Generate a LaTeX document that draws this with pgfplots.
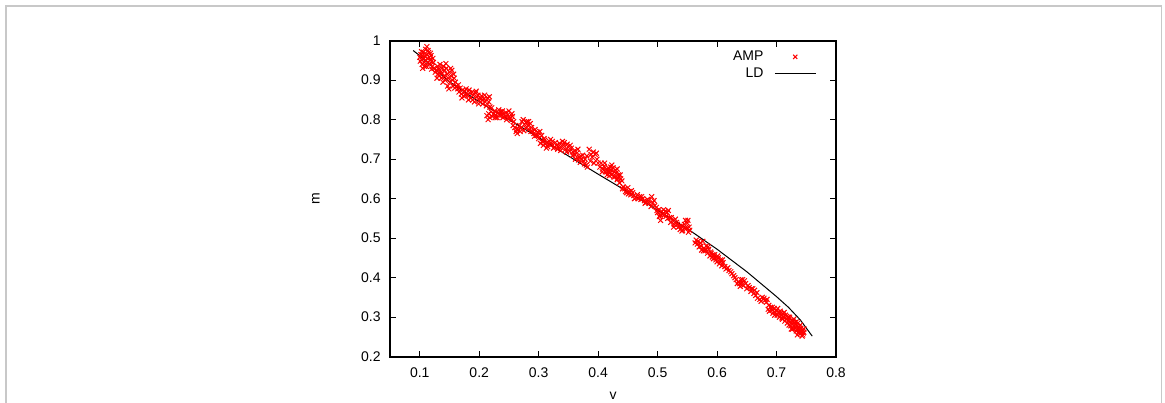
\documentclass[border=0pt]{standalone}
\usepackage{fontspec}
\setmainfont{Liberation Sans}
\usepackage{pgfplots}
\pgfplotsset{compat=1.18}
\definecolor{ampred}{HTML}{FF0000}
\definecolor{framegray}{HTML}{C8C8C8}

\begin{document}
\begin{tikzpicture}[font=\fontsize{10.5}{12.6}\selectfont]
% page = 1165 x 403 px at 0.75pt per px
\useasboundingbox (0,0) rectangle (873.75pt,302.25pt);
\draw[framegray, line width=1.1pt] (4.5pt,0) -- (4.5pt,297.75pt) -- (871.3pt,297.75pt) -- (871.3pt,0);
\begin{axis}[
  at={(292.5pt,34.75pt)}, anchor=south west,
  scale only axis, width=334.5pt, height=237pt,
  xmin=0.05, xmax=0.8, ymin=0.2, ymax=1,
  xtick={0.1,0.2,0.3,0.4,0.5,0.6,0.7,0.8},
  ytick={0.2,0.3,0.4,0.5,0.6,0.7,0.8,0.9,1},
  xticklabels={0.1,0.2,0.3,0.4,0.5,0.6,0.7,0.8},
  yticklabels={0.2,0.3,0.4,0.5,0.6,0.7,0.8,0.9,1},
  xtick pos=both, ytick pos=both,
  xticklabel pos=left, yticklabel pos=left,
  tick align=inside, major tick length=4.5pt,
  axis line style={line width=1.5pt},
  every tick/.style={black, line width=0.75pt},
  xticklabel style={yshift=-4.5pt},
  yticklabel style={xshift=-3.5pt},
  xlabel={v}, ylabel={m},
  xlabel style={at={(axis description cs:0.5,-0.1224)}, anchor=center},
  ylabel style={at={(axis description cs:-0.166,0.5)}, anchor=center},
  legend plot pos=right, legend cell align=right,
  legend style={at={(axis description cs:0.9574,0.968)}, anchor=north east,
    draw=none, fill=none, inner sep=0pt, row sep=3.75pt, column sep=0pt,
    nodes={inner sep=0pt}},
  clip=false,
]
% AMP estimates
\addplot[only marks, mark=x, mark size=2.6pt, ampred, line width=0.75pt,
  legend image code/.code={\path (0pt,0pt) (39.25pt,0pt); \draw[ampred, line width=0.75pt] plot[mark=x, mark size=2.2pt] coordinates {(23.5pt,0pt)};}]
coordinates {
(0.100,0.958) (0.101,0.948) (0.102,0.965) (0.103,0.952) (0.104,0.940) (0.105,0.962) (0.106,0.971) (0.107,0.955) (0.108,0.945) (0.109,0.960)
(0.110,0.978) (0.110,0.950) (0.111,0.935) (0.112,0.965) (0.113,0.955) (0.114,0.945) (0.115,0.970) (0.116,0.958) (0.117,0.940) (0.118,0.952)
(0.119,0.962) (0.120,0.948) (0.121,0.935) (0.122,0.955) (0.123,0.945) (0.124,0.930) (0.105,0.930) (0.112,0.985) (0.118,0.968) (0.120,0.928)
(0.128,0.925) (0.130,0.935) (0.131,0.915) (0.132,0.928) (0.134,0.940) (0.135,0.920) (0.136,0.905) (0.137,0.930) (0.138,0.918) (0.140,0.935)
(0.141,0.910) (0.142,0.925) (0.143,0.900) (0.145,0.930) (0.146,0.915) (0.147,0.885) (0.148,0.905) (0.150,0.920) (0.151,0.895) (0.152,0.930)
(0.153,0.910) (0.155,0.900) (0.156,0.885) (0.158,0.905) (0.160,0.895) (0.133,0.912) (0.144,0.942) (0.149,0.878)
(0.162,0.885) (0.164,0.878) (0.166,0.870) (0.168,0.880) (0.170,0.865) (0.172,0.875) (0.174,0.860) (0.176,0.872) (0.178,0.878) (0.180,0.862)
(0.182,0.850) (0.184,0.868) (0.186,0.855) (0.188,0.870) (0.190,0.862) (0.192,0.845) (0.194,0.868) (0.196,0.858) (0.198,0.862) (0.200,0.848)
(0.202,0.855) (0.204,0.860) (0.206,0.840) (0.208,0.852) (0.210,0.845) (0.212,0.835) (0.214,0.855) (0.216,0.845) (0.218,0.832)
(0.213,0.810) (0.215,0.800) (0.216,0.815) (0.218,0.805) (0.220,0.820) (0.222,0.808) (0.224,0.815) (0.226,0.822) (0.228,0.812) (0.230,0.805)
(0.232,0.818) (0.234,0.810) (0.236,0.820) (0.238,0.812) (0.240,0.805) (0.242,0.815) (0.244,0.808) (0.246,0.800) (0.248,0.812) (0.250,0.822)
(0.252,0.805) (0.254,0.798) (0.256,0.808) (0.258,0.795)
(0.260,0.780) (0.262,0.770) (0.264,0.765) (0.266,0.775) (0.268,0.785) (0.270,0.778) (0.272,0.795) (0.274,0.800) (0.276,0.788) (0.278,0.780)
(0.280,0.795) (0.282,0.785) (0.284,0.775) (0.286,0.790) (0.288,0.780) (0.290,0.770) (0.292,0.765) (0.294,0.775) (0.296,0.760) (0.298,0.768)
(0.300,0.752) (0.302,0.770) (0.305,0.760)
(0.306,0.745) (0.308,0.735) (0.310,0.748) (0.312,0.740) (0.315,0.732) (0.318,0.745) (0.320,0.750) (0.322,0.738) (0.325,0.728) (0.328,0.742)
(0.330,0.735) (0.332,0.725) (0.335,0.740) (0.338,0.730) (0.340,0.745) (0.342,0.735) (0.345,0.725) (0.348,0.738) (0.350,0.730) (0.352,0.720)
(0.355,0.728) (0.358,0.718)
(0.360,0.712) (0.362,0.700) (0.364,0.715) (0.366,0.725) (0.368,0.705) (0.370,0.692) (0.372,0.700) (0.374,0.710) (0.376,0.695) (0.378,0.700)
(0.380,0.685) (0.382,0.680) (0.385,0.725) (0.388,0.712) (0.390,0.705) (0.392,0.718) (0.395,0.712) (0.398,0.700) (0.400,0.690)
(0.405,0.690) (0.408,0.675) (0.410,0.682) (0.412,0.668) (0.414,0.672) (0.415,0.660) (0.417,0.678) (0.418,0.670) (0.420,0.665) (0.421,0.680)
(0.422,0.672) (0.424,0.662) (0.425,0.678) (0.427,0.668) (0.428,0.655) (0.430,0.665) (0.432,0.648) (0.434,0.660) (0.436,0.640) (0.438,0.650)
(0.440,0.645) (0.432,0.675)
(0.442,0.630) (0.445,0.625) (0.448,0.615) (0.450,0.628) (0.452,0.618) (0.455,0.610) (0.458,0.615) (0.460,0.608) (0.463,0.602) (0.466,0.610)
(0.470,0.605) (0.472,0.598) (0.475,0.600) (0.478,0.595) (0.480,0.590) (0.483,0.598) (0.486,0.588) (0.490,0.605) (0.492,0.590) (0.495,0.582)
(0.498,0.578) (0.500,0.565) (0.502,0.572) (0.504,0.558) (0.505,0.545) (0.507,0.568) (0.510,0.572) (0.512,0.560) (0.514,0.555) (0.516,0.565)
(0.518,0.570) (0.520,0.552) (0.522,0.540) (0.525,0.545) (0.528,0.535) (0.530,0.548) (0.532,0.540) (0.535,0.528) (0.538,0.522) (0.540,0.530)
(0.542,0.520) (0.545,0.535) (0.547,0.545) (0.549,0.525) (0.550,0.538) (0.552,0.515) (0.553,0.528)
(0.565,0.495) (0.567,0.485) (0.570,0.478) (0.572,0.488) (0.574,0.470) (0.576,0.492) (0.578,0.475) (0.580,0.468) (0.582,0.480) (0.584,0.462)
(0.586,0.472) (0.588,0.455) (0.590,0.462) (0.592,0.452) (0.594,0.448) (0.596,0.458) (0.598,0.445) (0.600,0.440) (0.602,0.450) (0.604,0.435)
(0.606,0.445) (0.608,0.430) (0.610,0.438)
(0.615,0.422) (0.620,0.418) (0.625,0.410) (0.628,0.405) (0.632,0.395) (0.636,0.390) (0.638,0.385) (0.640,0.395) (0.642,0.388) (0.644,0.380)
(0.646,0.392) (0.650,0.372) (0.654,0.375) (0.657,0.365) (0.660,0.372) (0.662,0.360) (0.665,0.355) (0.668,0.348) (0.672,0.345) (0.676,0.350)
(0.680,0.342) (0.684,0.345) (0.686,0.320) (0.688,0.315) (0.690,0.325)
(0.692,0.318) (0.694,0.310) (0.696,0.322) (0.698,0.312) (0.700,0.318) (0.701,0.305) (0.703,0.312) (0.705,0.300) (0.706,0.315) (0.708,0.305)
(0.710,0.295) (0.711,0.308) (0.712,0.300) (0.714,0.290) (0.715,0.305) (0.716,0.295) (0.718,0.285) (0.719,0.300) (0.720,0.292) (0.721,0.280)
(0.722,0.298) (0.723,0.288) (0.724,0.278) (0.725,0.292) (0.726,0.284) (0.727,0.270) (0.728,0.290) (0.729,0.278) (0.730,0.286) (0.731,0.272)
(0.732,0.282) (0.733,0.265) (0.734,0.278) (0.735,0.270) (0.736,0.285) (0.737,0.262) (0.738,0.275) (0.739,0.268) (0.740,0.258) (0.741,0.272)
(0.742,0.262) (0.743,0.252) (0.744,0.268) (0.745,0.260) (0.746,0.270) (0.740,0.280) (0.735,0.255)
(0.103,0.972) (0.108,0.935) (0.114,0.975) (0.126,0.920) (0.129,0.905) (0.139,0.895) (0.154,0.925) (0.157,0.915) (0.159,0.880) (0.165,0.888)
(0.171,0.855) (0.177,0.862) (0.183,0.875) (0.189,0.850) (0.195,0.872) (0.199,0.840) (0.205,0.850) (0.209,0.862) (0.217,0.858) (0.221,0.830)
(0.227,0.805) (0.233,0.825) (0.239,0.822) (0.245,0.818) (0.249,0.805) (0.255,0.815) (0.257,0.785) (0.263,0.775) (0.269,0.770) (0.275,0.772)
(0.279,0.792) (0.283,0.795) (0.287,0.770) (0.293,0.758) (0.299,0.760) (0.303,0.740) (0.309,0.752) (0.313,0.728) (0.317,0.738) (0.323,0.745)
(0.327,0.730) (0.333,0.732) (0.337,0.722) (0.343,0.742) (0.347,0.718) (0.353,0.735) (0.357,0.710) (0.361,0.722) (0.367,0.698) (0.371,0.708)
(0.377,0.688) (0.381,0.708) (0.387,0.695) (0.393,0.690) (0.397,0.715) (0.403,0.680) (0.407,0.668) (0.411,0.690) (0.416,0.670) (0.419,0.658)
(0.423,0.685) (0.426,0.655) (0.429,0.672) (0.433,0.652) (0.437,0.660) (0.441,0.625) (0.446,0.618) (0.451,0.612) (0.456,0.620) (0.461,0.600)
(0.467,0.600) (0.473,0.605) (0.479,0.588) (0.485,0.595) (0.489,0.580) (0.494,0.595) (0.499,0.570) (0.503,0.555) (0.508,0.560) (0.513,0.568)
(0.517,0.550) (0.523,0.552) (0.527,0.528) (0.533,0.535) (0.537,0.530) (0.541,0.518) (0.546,0.525) (0.551,0.545) (0.554,0.520) (0.563,0.488)
(0.568,0.492) (0.573,0.480) (0.577,0.468) (0.581,0.470) (0.585,0.478) (0.589,0.465) (0.593,0.458) (0.597,0.450) (0.601,0.455) (0.605,0.440)
(0.609,0.445) (0.613,0.428) (0.618,0.425) (0.623,0.415) (0.630,0.400) (0.634,0.385) (0.639,0.378) (0.643,0.395) (0.648,0.385) (0.652,0.380)
(0.658,0.372) (0.663,0.368) (0.667,0.362) (0.674,0.340) (0.679,0.348) (0.683,0.338) (0.687,0.330) (0.693,0.325) (0.697,0.305) (0.702,0.322)
(0.707,0.310) (0.709,0.298) (0.713,0.312) (0.717,0.302) (0.721,0.300) (0.725,0.270) (0.729,0.295) (0.733,0.288) (0.737,0.270) (0.741,0.265)
(0.744,0.255) (0.746,0.262)
};
\addlegendentry{AMP}
% LD curve
\addplot[black, line width=0.75pt, mark=none,
  legend image code/.code={\path (0pt,0pt); \draw[black, line width=0.75pt] (8.25pt,0pt) -- (39.25pt,0pt);}]
coordinates {
(0.089,0.975) (0.100,0.962) (0.120,0.935) (0.150,0.896) (0.200,0.845) (0.250,0.800) (0.300,0.755) (0.350,0.708)
(0.400,0.662) (0.450,0.617) (0.500,0.571) (0.550,0.524) (0.600,0.472) (0.650,0.415) (0.700,0.352) (0.720,0.325)
(0.740,0.293) (0.760,0.252)
};
\addlegendentry{LD}
\end{axis}
\end{tikzpicture}
\end{document}
